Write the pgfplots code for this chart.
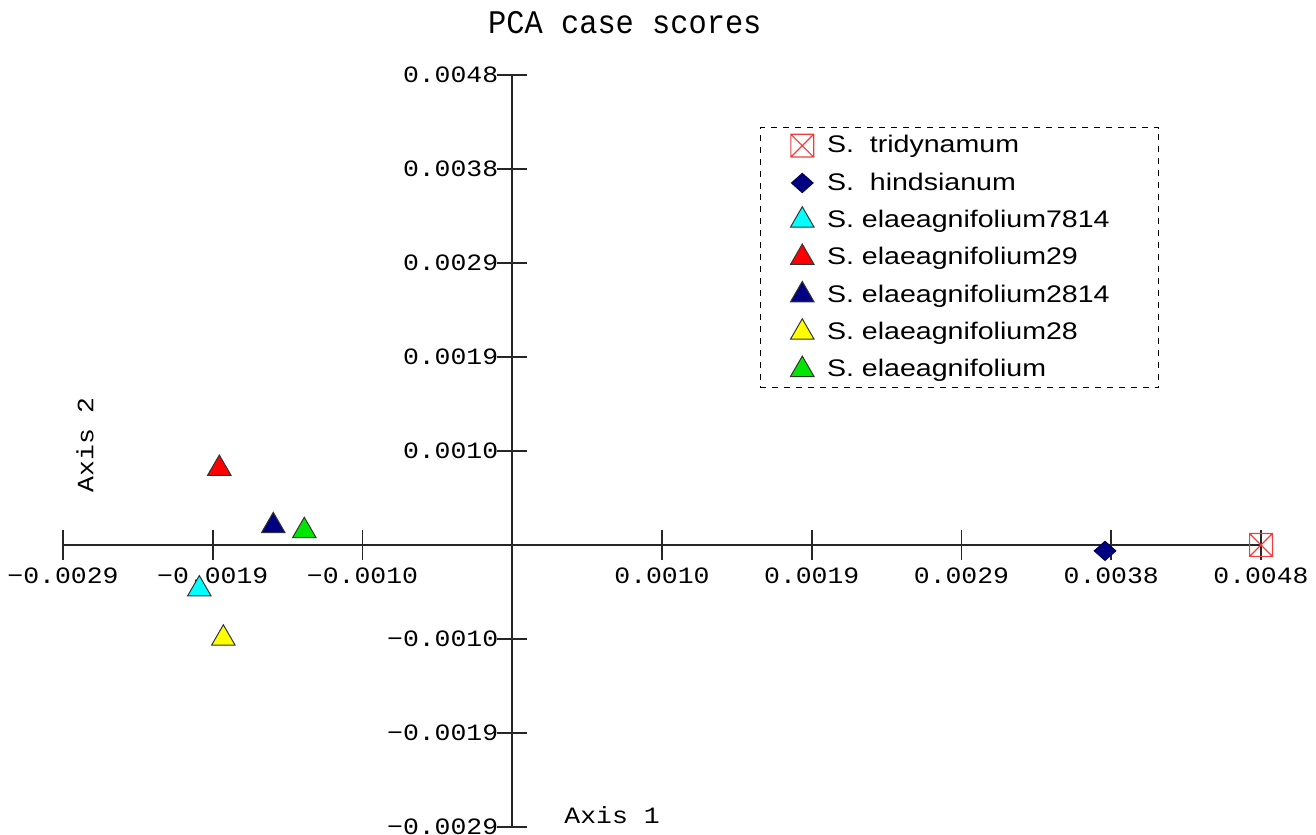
\documentclass[border=0pt]{standalone}
\usepackage{fontspec}
\usepackage{pgfplots}
\pgfplotsset{compat=1.18}
\newfontfamily\monofont[FakeStretch=1.13]{Liberation Mono}
\newfontfamily\titlefont[FakeStretch=0.92]{Liberation Mono}
\newfontfamily\legfont[FakeStretch=1.19]{Liberation Sans}
\definecolor{navyc}{RGB}{0,0,128}
\definecolor{cyanc}{RGB}{0,255,255}
\definecolor{redc}{RGB}{255,0,0}
\definecolor{yellowc}{RGB}{255,255,0}
\definecolor{greenc}{RGB}{0,230,0}
\definecolor{boxred}{RGB}{240,60,60}
\pgfdeclareplotmark{boxx}{%
  \pgfpathrectangle{\pgfqpoint{-\pgfplotmarksize}{-\pgfplotmarksize}}{\pgfqpoint{2\pgfplotmarksize}{2\pgfplotmarksize}}%
  \pgfpathmoveto{\pgfqpoint{-\pgfplotmarksize}{-\pgfplotmarksize}}\pgfpathlineto{\pgfqpoint{\pgfplotmarksize}{\pgfplotmarksize}}%
  \pgfpathmoveto{\pgfqpoint{-\pgfplotmarksize}{\pgfplotmarksize}}\pgfpathlineto{\pgfqpoint{\pgfplotmarksize}{-\pgfplotmarksize}}%
  \pgfusepathqstroke}
\begin{document}
\begin{tikzpicture}
\begin{axis}[
  name=ax,
  scale only axis, width=599bp, height=376bp,
  xmin=-0.00288, xmax=0.0048, ymin=-0.00288, ymax=0.0048,
  axis lines=middle, clip=false, scaled ticks=false,
  axis line style={black!85, line width=0.8bp, -},
  tick style={black!85, line width=0.8bp},
  tick align=center, major tick length=15bp,
  xtick={-0.00288,-0.00192,-0.00096,0.00096,0.00192,0.00288,0.00384,0.0048},
  xticklabels={−0.0029,−0.0019,−0.0010,0.0010,0.0019,0.0029,0.0038,0.0048},
  ytick={-0.00288,-0.00192,-0.00096,0.00096,0.00192,0.00288,0.00384,0.0048},
  yticklabels={−0.0029,−0.0019,−0.0010,0.0010,0.0019,0.0029,0.0038,0.0048},
  tick label style={font=\monofont\fontsize{11.7bp}{13bp}\selectfont, black},
  xticklabel style={anchor=north, yshift=-0.5bp},
  yticklabel style={anchor=east, xshift=4bp},
  xlabel={Axis 1}, ylabel={Axis 2},
  label style={font=\monofont\fontsize{11.7bp}{13bp}\selectfont},
  x label style={at={(rel axis cs:0.4583,0.016)}, anchor=center},
  y label style={at={(rel axis cs:0.0184,0.508)}, anchor=center, rotate=90},
  title={PCA case scores},
  title style={at={(rel axis cs:0.469,1.054)}, anchor=center, font=\titlefont\fontsize{16.5bp}{18bp}\selectfont},
  legend style={at={(rel axis cs:0.5818,0.9309)}, anchor=north west,
    draw=black, dashed, line width=0.5bp, font=\legfont\fontsize{12bp}{14bp}\selectfont,
    row sep=4.5bp, column sep=4.5bp, inner xsep=15bp, inner ysep=2bp},
  legend cell align=left,
  legend image code/.code={\draw[#1, solid] plot coordinates {(0bp,0bp)};},
]
\addplot[only marks, mark=boxx, mark size=5.7bp, mark options={solid, draw=boxred, line width=0.6bp}] coordinates {(0.0048,0.0)};
\addlegendentry{S.~ tridynamum}
\addplot[only marks, mark=diamond*, mark size=4.8bp, mark options={solid, fill=navyc, draw=navyc!70!black, xscale=1.5, line width=0.5bp}] coordinates {(0.00380,-0.00006)};
\addlegendentry{S.~ hindsianum}
\addplot[only marks, mark=triangle*, mark size=6.8bp, mark options={solid, fill=cyanc, draw=black!80, line width=0.5bp}] coordinates {(-0.002006,-0.000451)};
\addlegendentry{S. elaeagnifolium7814\hspace*{7.5bp}}
\addplot[only marks, mark=triangle*, mark size=6.8bp, mark options={solid, fill=redc, draw=black!80, line width=0.5bp}] coordinates {(-0.001878,0.000780)};
\addlegendentry{S. elaeagnifolium29}
\addplot[only marks, mark=triangle*, mark size=6.8bp, mark options={solid, fill=navyc, draw=black!80, line width=0.5bp}] coordinates {(-0.001532,0.000195)};
\addlegendentry{S. elaeagnifolium2814}
\addplot[only marks, mark=triangle*, mark size=6.8bp, mark options={solid, fill=yellowc, draw=black!80, line width=0.5bp}] coordinates {(-0.001852,-0.000954)};
\addlegendentry{S. elaeagnifolium28}
\addplot[only marks, mark=triangle*, mark size=6.8bp, mark options={solid, fill=greenc, draw=black!80, line width=0.5bp}] coordinates {(-0.001333,0.000144)};
\addlegendentry{S. elaeagnifolium}
\end{axis}
\pgfresetboundingbox
\path[use as bounding box] ([shift={(-31.5bp,-4bp)}]ax.south west) rectangle ([shift={(626.5bp,413.5bp)}]ax.south west);
\end{tikzpicture}
\end{document}
